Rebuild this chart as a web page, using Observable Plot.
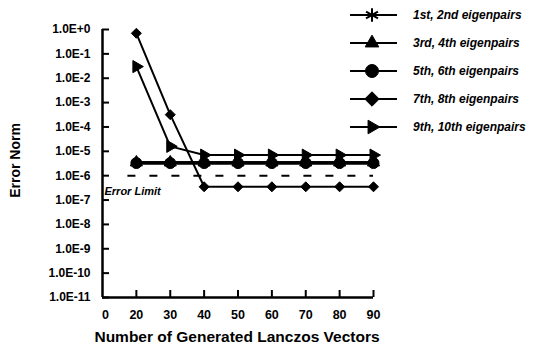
<!DOCTYPE html>
<html>
<head>
<meta charset="utf-8">
<script src="https://cdn.jsdelivr.net/npm/d3@7"></script>
<script src="https://cdn.jsdelivr.net/npm/@observablehq/plot@0.6"></script>
<style>
  body { margin: 0; background: #fff; }
  #wrap { position: relative; width: 536px; height: 352px; }
  #legend { position: absolute; left: 0; top: 0; }
</style>
</head>
<body>
<div id="wrap"></div>
<script>
const iterations = [20, 30, 40, 50, 60, 70, 80, 90];
const seriesNames = ["1st, 2nd eigenpairs", "3rd, 4th eigenpairs", "5th, 6th eigenpairs", "7th, 8th eigenpairs", "9th, 10th eigenpairs"];
const s12 = [3.6e-6, 3.6e-6, 3.6e-6, 3.6e-6, 3.6e-6, 3.6e-6, 3.6e-6, 3.6e-6];
const s34 = [3.5e-6, 3.5e-6, 3.5e-6, 3.5e-6, 3.5e-6, 3.5e-6, 3.5e-6, 3.5e-6];
const s56 = [3.3e-6, 3.3e-6, 3.3e-6, 3.3e-6, 3.3e-6, 3.3e-6, 3.3e-6, 3.3e-6];
const s78 = [0.7, 3.2e-4, 3.5e-7, 3.5e-7, 3.5e-7, 3.5e-7, 3.5e-7, 3.5e-7];
const s910 = [3e-2, 1.6e-5, 7e-6, 7e-6, 7e-6, 7e-6, 7e-6, 7e-6];
const seriesValues = [s12, s34, s56, s78, s910];
const symbols = ["asterisk", "triangle", "circle", "diamond2", "triangle"];
const rotations = [0, 0, 0, 0, 90];
const markerSizes = [4.5, 4.5, 5.5, 4.5, 4.5];
const errorLimit = 1e-6;
const errorLimitLabel = "Error Limit";
const xTicks = [10, 20, 30, 40, 50, 60, 70, 80, 90];
const xTickLabels = ["0", "20", "30", "40", "50", "60", "70", "80", "90"];
const yTicks = [1, 1e-1, 1e-2, 1e-3, 1e-4, 1e-5, 1e-6, 1e-7, 1e-8, 1e-9, 1e-10, 1e-11];
const yTickLabels = ["1.0E+0", "1.0E-1", "1.0E-2", "1.0E-3", "1.0E-4", "1.0E-5", "1.0E-6", "1.0E-7", "1.0E-8", "1.0E-9", "1.0E-10", "1.0E-11"];
const xLabel = "Number of Generated Lanczos Vectors";
const yLabel = "Error Norm";

const rows = [];
seriesValues.forEach((vals, si) => vals.forEach((v, i) => rows.push({series: si, x: iterations[i], y: v})));

const font = "'Liberation Sans', Arial, sans-serif";
const dotMarks = seriesValues.map((vals, si) =>
  Plot.dot(rows.filter(d => d.series === si), {
    x: "x", y: "y", symbol: () => symbols[si], r: markerSizes[si],
    rotate: rotations[si], fill: "black", stroke: "black", strokeWidth: 1
  })
);

const chart = Plot.plot({
  width: 536, height: 352,
  marginLeft: 102, marginRight: 163, marginTop: 29, marginBottom: 55,
  style: {fontFamily: font, fontWeight: "bold", fontSize: "12px", color: "black", background: "white"},
  x: {domain: [10, 90]},
  y: {type: "log", domain: [1e-11, 1]},
  symbol: {type: "identity"},
  marks: [
    Plot.axisY({ticks: yTicks, tickFormat: d => yTickLabels[yTicks.indexOf(d)], tickSize: -7, tickPadding: 19, strokeWidth: 2, label: null, fontSize: 12}),
    Plot.axisX({ticks: xTicks.slice(1), tickFormat: d => xTickLabels[xTicks.indexOf(d)], tickSize: -7, tickPadding: 20, strokeWidth: 2, label: null, fontSize: 12.5}),
    Plot.text([xTicks[0]], {x: d => d, frameAnchor: "bottom", dy: 21, text: d => xTickLabels[xTicks.indexOf(d)], fontSize: 12.5, fontWeight: "bold", dx: 3}),
    Plot.ruleX([10], {strokeWidth: 2.5}),
    Plot.ruleY([1e-11], {strokeWidth: 2.5}),
    Plot.ruleY([errorLimit], {x1: 17.5, x2: 90, strokeWidth: 2, strokeDasharray: "8,14"}),
    Plot.text([errorLimitLabel], {x: 10, y: errorLimit, text: d => d, textAnchor: "start", dx: 2, dy: 16, fontStyle: "italic", fontSize: 11, fontWeight: "bold", letterSpacing: "-0.3px"}),
    ...seriesValues.map((vals, si) =>
      Plot.line(rows.filter(d => d.series === si), {x: "x", y: "y", stroke: "black", strokeWidth: si === 2 ? 3.5 : 2})
    ),
    ...dotMarks,
    Plot.text([yLabel], {frameAnchor: "left", textAnchor: "middle", dx: -87, dy: -3, rotate: -90, text: d => d, fontSize: 14, fontWeight: "bold"}),
    Plot.text([xLabel], {frameAnchor: "bottom", dy: 44, dx: -1, text: d => d, fontSize: 15.5, fontWeight: "bold", letterSpacing: "-0.6px"})
  ]
});

const wrap = document.getElementById("wrap");
wrap.appendChild(chart);

// legend overlay
const leg = d3.select(wrap).append("svg").attr("id", "legend").attr("width", 536).attr("height", 352);
const lx0 = 350, lx1 = 397, lmx = 372, ltx = 413;
const ly = d3.scaleBand().domain(seriesNames).range([1, 141]);
const symGen = {asterisk: d3.symbolAsterisk, triangle: d3.symbolTriangle2, circle: d3.symbolCircle, diamond2: d3.symbolDiamond2};
seriesNames.forEach((name, si) => {
  const y = ly(name) + ly.bandwidth() / 2;
  const g = leg.append("g");
  g.append("line").attr("x1", lx0).attr("x2", lx1).attr("y1", y).attr("y2", y).attr("stroke", "black").attr("stroke-width", 2);
  const r = 6.5;
  g.append("path")
    .attr("d", d3.symbol(symGen[symbols[si]], Math.PI * r * r)())
    .attr("transform", `translate(${lmx},${y}) rotate(${rotations[si]})`)
    .attr("fill", "black").attr("stroke", "black").attr("stroke-width", symbols[si] === "asterisk" ? 2 : 1);
  g.append("text").attr("x", ltx).attr("y", y).attr("dy", "0.35em")
    .attr("font-family", font).attr("font-weight", "bold").attr("font-style", "italic").attr("font-size", 12)
    .text(name);
});
</script>
</body>
</html>
